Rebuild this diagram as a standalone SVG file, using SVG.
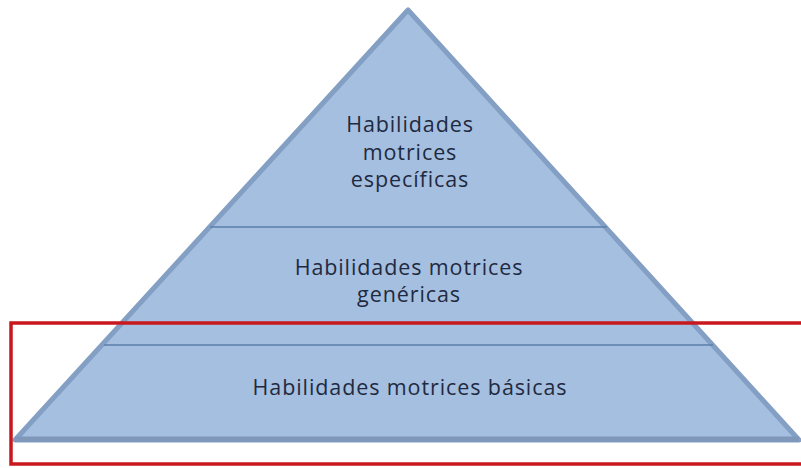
<svg xmlns="http://www.w3.org/2000/svg" width="801" height="468" viewBox="0 0 801 468">
<style>
.t{font-family:"Open Sans","Liberation Sans",sans-serif;font-size:21.5px;letter-spacing:0.9px;fill:#1f2a40;text-anchor:middle}
.div{stroke:#5b7faa;stroke-width:1.5}
</style>
<rect width="801" height="468" fill="#ffffff"/>
<g id="pyramid">
<polygon points="408,10 15,440 799,440" fill="#a5bfe0" stroke="#849fc4" stroke-width="5" stroke-linejoin="round"/>
<line x1="15" y1="439" x2="799" y2="439" stroke="#7f97b8" stroke-width="5"/>
</g>
<g id="connectors">
<line class="div" x1="210" y1="227" x2="607" y2="227"/>
<line class="div" x1="104" y1="345" x2="713" y2="345"/>
</g>
<g id="top">
<text class="t" x="410" y="132">Habilidades</text>
<text class="t" x="410" y="160">motrices</text>
<text class="t" x="410" y="187">específicas</text>
</g>
<g id="middle">
<text class="t" x="409" y="275">Habilidades motrices</text>
<text class="t" x="409" y="302">genéricas</text>
</g>
<g id="bottom">
<text class="t" x="410" y="395">Habilidades motrices básicas</text>
</g>
<g id="highlight">
<rect x="11" y="323" width="795" height="141" fill="none" stroke="#c8181e" stroke-width="3.5"/>
</g>
</svg>
